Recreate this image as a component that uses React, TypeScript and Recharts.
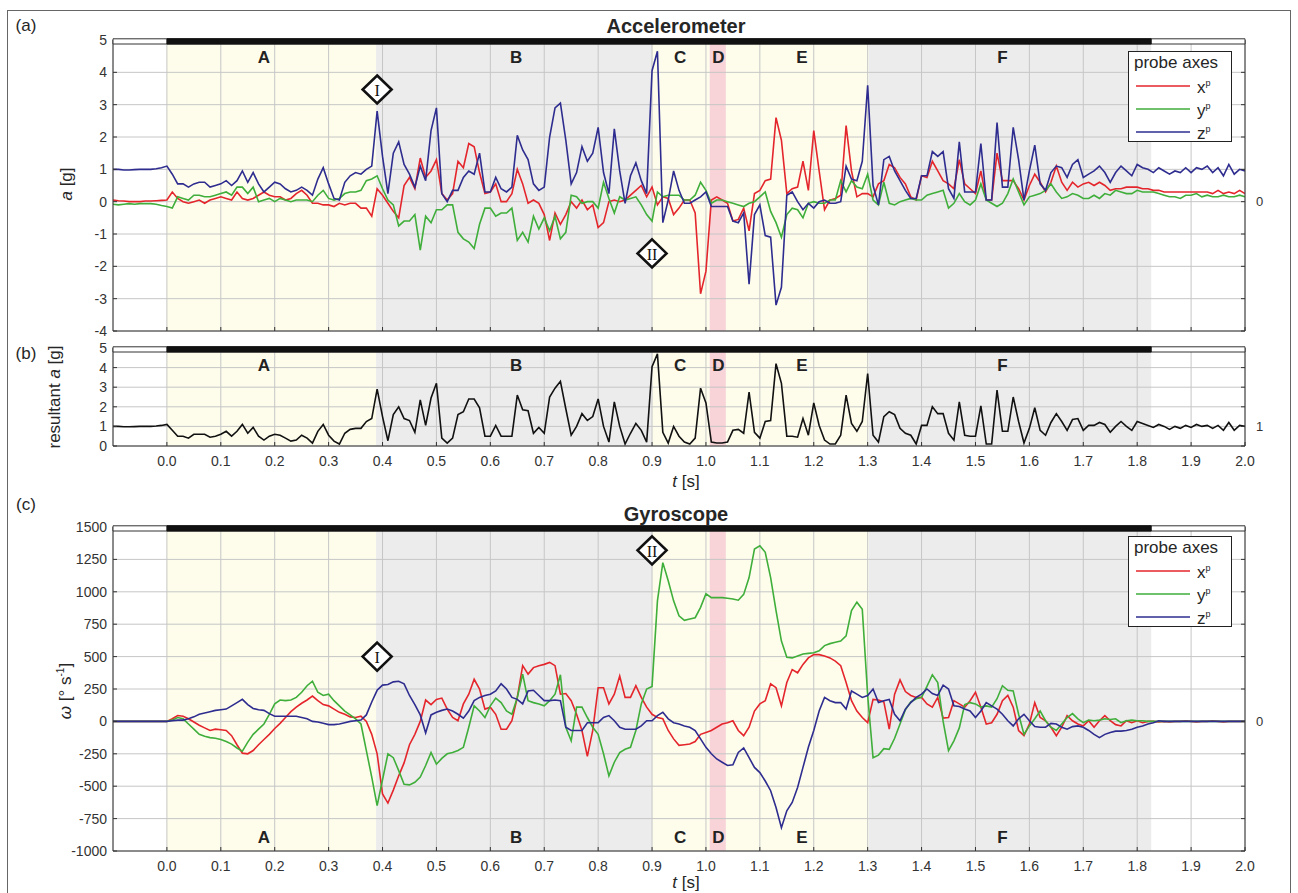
import React from "react"
import { LineChart, Line, XAxis, YAxis, CartesianGrid, ReferenceArea, ReferenceDot, Legend } from "recharts"

const FONT = '"Liberation Sans", Arial, Helvetica, sans-serif'
const SERIF = '"Liberation Serif", "DejaVu Serif", serif'
const INK = "#262626"

const RED = "#e4262c"
const GREEN = "#3fae3a"
const BLUE = "#2e2d8f"
const YELLOW = "#fefdec"
const GREY = "#ececec"
const PINK = "#f8d3d7"

// sampling: t = -0.10 ... 2.00 s, every 0.01 s
const T_START = -0.1
const T_STEP = 0.01
const T_MIN = -0.1
const T_MAX = 2.0

const TIME_TICKS = [0.0, 0.1, 0.2, 0.3, 0.4, 0.5, 0.6, 0.7, 0.8, 0.9, 1.0, 1.1, 1.2, 1.3, 1.4, 1.5, 1.6, 1.7, 1.8, 1.9, 2.0]
const ACC_TICKS = [-4, -3, -2, -1, 0, 1, 2, 3, 4, 5]
const RES_TICKS = [0, 1, 2, 3, 4, 5]
const GYRO_TICKS = [-1000, -750, -500, -250, 0, 250, 500, 750, 1000, 1250, 1500]

// phases of the movement
const PHASES = [
  { id: "A", from: 0.0, to: 0.388, fill: YELLOW, labelAt: 0.18 },
  { id: "B", from: 0.388, to: 0.9, fill: GREY, labelAt: 0.648 },
  { id: "C", from: 0.9, to: 1.007, fill: YELLOW, labelAt: 0.952 },
  { id: "D", from: 1.007, to: 1.037, fill: PINK, labelAt: 1.023 },
  { id: "E", from: 1.037, to: 1.302, fill: YELLOW, labelAt: 1.178 },
  { id: "F", from: 1.302, to: 1.826, fill: GREY, labelAt: 1.55 },
]
const RECORDING = [0.0, 1.826]

const ACC_EVENTS = [
  { label: "I", t: 0.39, v: 3.47 },
  { label: "II", t: 0.9, v: -1.6 },
]
const GYRO_EVENTS = [
  { label: "I", t: 0.39, v: 500 },
  { label: "II", t: 0.9, v: 1320 },
]

// accelerometer [g]
const ACC_X = [
  0.05, 0.03, 0.02, 0.0, 0.0, 0.0, 0.02, 0.02, 0.03, 0.04,
  0.05, 0.3, 0.1, 0.0, -0.05, 0.0, 0.05, -0.05, 0.05, 0.1,
  0.15, 0.1, 0.05, 0.3, 0.1, 0.05, 0.1, 0.2, 0.3, 0.2,
  0.15, 0.15, 0.05, 0.1, 0.25, 0.35, 0.2, -0.05, -0.05, -0.1,
  -0.1, -0.15, -0.05, -0.1, -0.05, -0.05, -0.2, -0.2, -0.45, 0.4,
  0.2, -0.05, -0.3, -0.5, 0.5, 0.75, 0.4, 1.35, 0.75, 0.95,
  1.3, 0.25, 0.05, 0.25, 1.25, 1.05, 1.8, 1.7, 0.9, 0.25,
  0.3, 0.55, 0.0, 0.0, 0.25, 1.0, 0.55, -0.05, 0.05, -0.05,
  -0.4, -1.2, -0.35, -0.7, -0.4, 0.0, -0.2, 0.05, -0.25, -0.1,
  -0.8, -0.65, 0.0, 0.05, 0.0, 0.05, 0.2, 0.35, 0.5, 0.15,
  0.45, -0.1, 0.15, 0.1, -0.4, -0.2, 0.05, 0.05, -0.35, -2.85,
  -2.15, 0.05, 0.15, 0.05, -0.05, -0.6, -0.55, -0.2, -0.9, 0.25,
  0.35, 0.65, 0.7, 2.6, 1.9, 0.25, 0.4, 0.45, 1.25, 0.35,
  2.2, 0.95, -0.25, 0.05, 0.1, 0.2, 2.35, 0.95, 0.15, 0.25,
  0.25, 0.15, 0.55, 0.65, 1.15, 1.05, 0.75, 0.55, 0.15, 0.05,
  0.8, 0.75, 1.25, 0.95, 0.65, 0.55, 0.4, 1.3, 0.55, 0.4,
  0.25, 0.95, 0.05, 0.05, 1.5, 0.65, 0.65, 0.65, 0.4, 0.05,
  0.5, 0.85, 0.6, 0.3, 0.6, 1.1, 0.6, 0.35, 0.6, 0.45,
  0.55, 0.6, 0.5, 0.6, 0.5, 0.35, 0.4, 0.4, 0.45, 0.45,
  0.45, 0.4, 0.4, 0.35, 0.35, 0.3, 0.3, 0.3, 0.3, 0.3,
  0.3, 0.3, 0.3, 0.3, 0.25, 0.35, 0.25, 0.3, 0.25, 0.35,
  0.25,
]
const ACC_Y = [
  -0.08, -0.1, -0.08, -0.06, -0.08, -0.06, -0.06, -0.06, -0.08, -0.12,
  -0.15, -0.2, 0.15, 0.1, 0.05, 0.2, 0.2, 0.15, 0.15, 0.2,
  0.25, 0.3, 0.2, 0.45, 0.45, 0.25, 0.45, 0.0, 0.05, 0.1,
  0.0, 0.1, 0.05, 0.0, 0.05, 0.05, 0.05, 0.0, 0.2, 0.35,
  0.1, 0.05, 0.1, 0.25, 0.3, 0.3, 0.35, 0.65, 0.7, 0.8,
  0.4, 0.05, -0.1, -0.75, -0.6, -0.6, -0.4, -1.5, -0.45, -0.65,
  -0.25, -0.25, -0.1, -0.1, -0.95, -1.15, -1.25, -1.45, -0.7, -0.2,
  -0.2, -0.45, -0.35, -0.35, -0.2, -1.2, -0.95, -1.25, -0.45, -0.85,
  -0.5, -0.9, -0.45, -1.15, -0.95, 0.2, 0.15, -0.05, 0.0, 0.0,
  -0.2, 0.6, 0.1, -0.35, 0.15, 0.05, 0.1, 0.15, -0.1, -0.4,
  -0.6, 0.3, 0.15, 0.2, 0.2, 0.2, 0.05, 0.05, 0.2, 0.6,
  0.35, -0.05, 0.05, 0.05, 0.0, -0.05, -0.1, -0.15, -0.05, 0.0,
  0.15, 0.3, -0.3, -0.65, -1.1, -0.4, -0.2, -0.25, -0.5, -0.05,
  0.0, -0.05, -0.05, 0.05, 0.05, 0.65, 0.3, 0.65, 0.45, 0.4,
  0.85, 0.05, -0.1, 0.6, -0.05, -0.1, 0.0, 0.05, 0.1, 0.05,
  0.05, 0.2, 0.25, 0.3, 0.35, -0.2, -0.05, 0.25, 0.0, -0.1,
  0.05, 0.55, 0.05, -0.05, -0.15, -0.05, 0.25, 0.7, 0.3, -0.1,
  0.15, 0.2, 0.25, 0.35, 0.55, 0.3, 0.1, 0.15, 0.25, 0.2,
  0.1, 0.1, 0.2, 0.1, 0.25, 0.2, 0.35, 0.3, 0.25, 0.25,
  0.35, 0.3, 0.3, 0.3, 0.25, 0.2, 0.15, 0.15, 0.1, 0.2,
  0.2, 0.25, 0.15, 0.2, 0.15, 0.15, 0.2, 0.15, 0.15, 0.2,
  0.15,
]
const ACC_Z = [
  1.0, 1.0, 0.98, 0.98, 0.99, 1.0, 1.0, 1.0, 1.02, 1.05,
  1.1, 0.85, 0.55, 0.55, 0.45, 0.55, 0.6, 0.6, 0.45, 0.5,
  0.55, 0.65, 0.5, 0.65, 0.95, 0.6, 0.9, 0.55, 0.3, 0.45,
  0.6, 0.55, 0.4, 0.3, 0.35, 0.45, 0.35, 0.2, 0.7, 1.05,
  0.55, 0.1, 0.05, 0.6, 0.8, 0.9, 0.85, 1.0, 1.1, 2.8,
  1.4, 0.25, 1.5, 1.85, 1.15, 0.85, 0.45, 1.1, 0.65, 2.2,
  2.9, 0.25, 0.0, 0.35, 0.35, 0.75, 0.95, 0.85, 1.5, 0.3,
  0.3, 0.75, 0.4, 0.3, 0.45, 2.05, 1.6, 1.3, 0.55, 0.35,
  0.45, 2.0, 2.9, 3.05, 1.9, 0.55, 0.9, 1.7, 1.25, 1.5,
  2.3, 0.9, 0.25, 2.25, 0.95, -0.05, 0.8, 1.2, 0.65, 0.25,
  4.05, 4.65, -0.65, 0.05, 0.95, 0.35, -0.05, -0.05, 0.05, 0.15,
  0.3, -0.15, -0.15, -0.15, -0.15, -0.6, -0.65, -0.35, -2.55, -0.4,
  -0.1, -1.05, -1.1, -3.2, -2.65, 0.2, 0.3, 0.0, -0.25, -0.05,
  -0.2, 0.0, 0.05, -0.05, -0.05, 0.0, 1.1, 0.7, 0.65, 1.25,
  3.6, 0.5, -0.1, 1.3, 1.4, 0.95, 0.65, 0.35, 0.1, 0.1,
  0.8, 0.8, 1.55, 1.4, 1.55, 0.4, 0.1, 1.85, 0.3, 0.3,
  0.3, 1.8, 0.05, 0.05, 2.45, 0.45, 0.45, 2.3, 1.3, 0.05,
  0.95, 1.75, 0.55, 0.35, 0.9, 1.1, 1.05, 0.75, 1.15, 1.3,
  0.75, 0.85, 0.95, 1.1, 0.9, 0.6, 0.9, 1.1, 0.95, 0.8,
  1.15, 1.05, 1.0, 0.9, 1.05, 0.95, 0.85, 0.95, 0.9, 1.05,
  0.9, 1.05, 1.0, 1.1, 0.9, 1.05, 0.8, 1.15, 0.85, 1.0,
  0.95,
]
const ACC_RES = [
  1.0, 1.0, 0.98, 0.98, 0.99, 1.0, 1.0, 1.0, 1.02, 1.05,
  1.1, 0.8, 0.5, 0.5, 0.4, 0.6, 0.6, 0.6, 0.45, 0.5,
  0.6, 0.75, 0.5, 0.75, 1.1, 0.65, 0.95, 0.5, 0.3, 0.5,
  0.6, 0.55, 0.4, 0.25, 0.3, 0.55, 0.4, 0.15, 0.75, 1.1,
  0.55, 0.25, 0.1, 0.65, 0.85, 0.9, 0.9, 1.25, 1.4, 2.9,
  1.5, 0.27, 1.6, 2.0, 1.4, 1.3, 0.7, 2.35, 1.05, 2.45,
  3.2, 0.4, 0.15, 0.4, 1.6, 1.75, 2.4, 2.4, 1.95, 0.5,
  0.5, 1.05, 0.5, 0.5, 0.5, 2.6, 1.85, 1.8, 0.65, 0.95,
  0.65, 2.5, 2.95, 3.3, 1.9, 0.55, 1.0, 1.65, 1.3, 1.5,
  2.4, 1.0, 0.2, 2.25, 1.0, 0.1, 0.65, 1.15, 0.8, 0.2,
  4.05, 4.7, 0.7, 0.15, 1.0, 0.5, 0.2, 0.1, 0.4, 2.95,
  2.2, 0.2, 0.15, 0.15, 0.2, 0.8, 0.85, 0.65, 2.75, 0.7,
  0.4, 1.25, 1.3, 4.2, 3.2, 0.5, 0.5, 0.45, 1.4, 0.55,
  2.2, 1.05, 0.3, 0.1, 0.1, 0.55, 2.6, 1.15, 0.75, 1.25,
  3.7, 0.55, 0.2, 1.5, 1.75, 1.6, 0.9, 0.65, 0.55, 0.1,
  1.05, 1.05, 2.0, 1.65, 1.65, 0.65, 0.3, 2.25, 0.55, 0.5,
  0.5, 2.05, 0.1, 0.1, 2.85, 0.75, 0.75, 2.5, 1.25, 0.15,
  0.9, 1.95, 0.8, 0.55, 1.2, 1.65, 1.25, 0.8, 1.35, 1.4,
  0.8, 1.05, 1.05, 1.2, 1.1, 0.7, 1.0, 1.25, 1.0, 0.8,
  1.25, 1.15, 1.05, 0.95, 1.1, 1.0, 0.85, 1.0, 0.9, 1.05,
  0.95, 1.1, 1.0, 1.05, 0.9, 1.05, 0.8, 1.2, 0.8, 1.05,
  1.0,
]

// gyroscope [deg/s]
const GYRO_X = [
  0, 0, 0, 0, 0, 0, 0, 0, 0, 0,
  0, 20, 45, 40, 20, -5, -30, -50, -70, -60,
  -65, -70, -110, -180, -245, -250, -225, -180, -140, -100,
  -55, -15, 30, 75, 110, 140, 165, 195, 160, 130,
  120, 95, 70, 55, 35, 30, 40, 0, -100, -250,
  -560, -630, -530, -420, -320, -180, -100, 0, 165, 130,
  170, 180, 95, 30, 5, 135, 210, 325, 250, 95,
  110, 55, -60, -60, 5, 185, 430, 365, 415, 430,
  440, 455, 430, 210, 215, 160, 55, -70, -270, -70,
  260, 260, 135, 210, 350, 185, 185, 275, 185, 110,
  55, 30, 20, -70, -135, -185, -180, -175, -155, -100,
  -85, -70, -45, -20, -10, 5, -70, -110, -45, 80,
  135, 160, 290, 260, 120, 300, 400, 375, 440, 490,
  515, 515, 505, 490, 465, 430, 300, 160, 80, 30,
  -10, 170, 165, 150, -60, 210, 320, 230, 200, 185,
  185, 135, 110, 185, 25, 30, 160, 135, 110, 160,
  225, 110, -20, -10, 55, 160, 200, 110, -70, -110,
  -20, 145, 30, 5, -45, -110, -45, 45, 5, -20,
  -35, 5, -45, 5, 45, 5, -25, -35, 5, -10,
  5, -10, 0, 0, -5, 0, -5, 0, 0, 5,
  0, -5, 0, 0, 5, 0, -5, 0, 0, 0,
  0,
]
const GYRO_Y = [
  0, 0, 0, 0, 0, 0, 0, 0, 0, 0,
  0, 10, 30, 20, -20, -60, -100, -115, -125, -130,
  -140, -155, -175, -205, -230, -160, -100, -60, -20, 55,
  135, 165, 160, 165, 185, 225, 275, 310, 225, 200,
  210, 160, 120, 80, 50, 20, -20, -225, -430, -650,
  -450, -250, -280, -380, -485, -490, -470, -430, -340, -240,
  -330, -285, -250, -240, -225, -200, -45, 120, 80, 30,
  120, 180, 145, 80, 55, 185, 365, 160, 145, 135,
  120, 160, 210, 360, -45, -150, 110, 110, 30, -45,
  -100, -250, -420, -315, -240, -215, -200, -70, 135, 250,
  270, 930, 1225, 1085, 930, 815, 780, 790, 800, 880,
  985, 955, 955, 955, 950, 945, 935, 980, 1110, 1330,
  1355, 1305, 1110, 855, 620, 495, 490, 505, 520, 525,
  530, 545, 585, 600, 610, 620, 660, 855, 920, 865,
  200, -280, -260, -210, -215, -130, -20, 90, 150, 175,
  185, 270, 360, 300, 0, -225, -150, -50, 130, 145,
  135, 110, 120, 110, 175, 275, 240, 235, 55, -100,
  -35, 20, 80, 5, -45, -70, -20, 30, 60, 20,
  -10, 10, 5, 10, 20, 15, 20, -10, 5, 10,
  5, 5, 0, 0, 0, 0, 0, 0, 0, 0,
  0, 0, 0, 0, 0, 0, 0, 0, 0, 0,
  0,
]
const GYRO_Z = [
  0, 0, 0, 0, 0, 0, 0, 0, 0, 0,
  0, 5, 10, 10, 20, 35, 55, 65, 75, 85,
  90, 95, 120, 145, 170, 130, 100, 90, 85, 60,
  40, 40, 40, 40, 40, 30, 20, 0, -5, -15,
  -25, -25, -20, -10, 0, 5, 10, 50, 150, 240,
  280, 285, 305, 310, 290, 200, 130, 50, -90, 50,
  70, 85, 95, 80, 55, 25, 80, 160, 185, 200,
  210, 235, 290, 250, 185, 170, 135, 235, 240, 200,
  160, 160, 165, 160, -45, -70, -70, -70, -10, -10,
  -10, 30, 45, 5, -45, -60, -60, -60, -35, 5,
  5, 45, 70, 20, -10, -20, -35, -45, -70, -135,
  -200, -250, -290, -315, -340, -335, -240, -205, -280, -355,
  -395, -460, -535, -665, -820, -690, -625, -510, -355, -200,
  -70, 80, 185, 160, 145, 145, 95, 235, 210, 185,
  200, 250, 145, 160, 170, 55, 5, 95, 145, 185,
  210, 250, 215, 200, 280, 250, 120, 115, 95, 80,
  30, 80, 145, 120, 95, 55, 5, -35, 20, 55,
  5, -40, -45, -45, -15, -20, -45, -60, -40, -35,
  -45, -70, -100, -125, -100, -85, -75, -75, -70, -60,
  -45, -35, -20, -10, 5, 0, 0, 0, 0, 0,
  0, 0, 0, 0, 0, 0, 0, 0, 0, 0,
  0,
]

const SERIES = [
  { key: "x", name: "x", color: RED },
  { key: "y", name: "y", color: GREEN },
  { key: "z", name: "z", color: BLUE },
]

const tAt = (i: number) => Math.round((T_START + i * T_STEP) * 100) / 100
const accRows = ACC_X.map((x, i) => ({ t: tAt(i), x, y: ACC_Y[i], z: ACC_Z[i] }))
const resRows = ACC_RES.map((r, i) => ({ t: tAt(i), r }))
const gyroRows = GYRO_X.map((x, i) => ({ t: tAt(i), x, y: GYRO_Y[i], z: GYRO_Z[i] }))

// geometry
const W = 1298
const PLOT_L = 113
const PLOT_R = 1245
const L_W = 56
const R_W = 30

function Diamond({ cx, cy, label }: { cx: number; cy: number; label: string }) {
  return (
    <g>
      <polygon
        points={`${cx},${cy - 14} ${cx + 14.5},${cy} ${cx},${cy + 14} ${cx - 14.5},${cy}`}
        fill="#fff"
        stroke="#111"
        strokeWidth={2.6}
      />
      <text x={cx} y={cy + 1} textAnchor="middle" dominantBaseline="central" fontFamily={SERIF} fontSize={16} fill="#111">
        {label}
      </text>
    </g>
  )
}

function ProbeLegend() {
  return (
    <div
      style={{
        width: 104,
        height: 91,
        boxSizing: "border-box",
        border: "1.5px solid #222",
        background: "#fff",
        fontFamily: FONT,
        color: INK,
      }}
    >
      <div style={{ fontSize: 17, lineHeight: "20px", paddingLeft: 5, paddingTop: 1, height: 21 }}>probe axes</div>
      {SERIES.map((s) => (
        <div key={s.key} style={{ display: "flex", alignItems: "center", height: 23 }}>
          <svg width={64} height={10} style={{ display: "block" }}>
            <line x1={7} y1={5} x2={61} y2={5} stroke={s.color} strokeWidth={1.6} />
          </svg>
          <span style={{ fontSize: 17, marginLeft: 4, lineHeight: "20px" }}>
            {s.name}
            <span style={{ fontSize: 9, verticalAlign: "7px" }}>p</span>
          </span>
        </div>
      ))}
    </div>
  )
}

type PanelProps = {
  top: number
  plotH: number
  rows: any[]
  domain: [number, number]
  ticks: number[]
  rightLabel: number
  keys: { key: string; color: string }[]
  xLabels: boolean
  letterY: number
  events?: { label: string; t: number; v: number }[]
  legendTop?: number
}

function Panel({ top, plotH, rows, domain, ticks, rightLabel, keys, xLabels, letterY, events, legendTop }: PanelProps) {
  const mTop = 12
  const xH = xLabels ? 34 : 8
  const h = mTop + plotH + xH
  const u = (domain[1] - domain[0]) / plotH
  const tickStyle = { fontSize: 14, fill: "#333", fontFamily: FONT }
  return (
    <div style={{ position: "absolute", left: 0, top: top - mTop }}>
      <LineChart
        width={W}
        height={h}
        data={rows}
        margin={{ top: mTop, right: W - PLOT_R - R_W, bottom: 0, left: PLOT_L - L_W }}
      >
        {PHASES.map((p) => (
          <ReferenceArea
            key={p.id}
            x1={p.from}
            x2={p.to}
            y1={domain[0]}
            y2={domain[1]}
            fill={p.fill}
            fillOpacity={1}
            strokeWidth={0}
            zIndex={-200}
          />
        ))}
        <CartesianGrid stroke="#c6c6c6" strokeWidth={1} />
        <XAxis
          type="number"
          dataKey="t"
          domain={[T_MIN, T_MAX]}
          ticks={TIME_TICKS}
          interval={0}
          allowDataOverflow
          height={xH}
          axisLine={{ stroke: "#333" }}
          tickLine={{ stroke: "#333" }}
          tickSize={-4}
          tickMargin={14}
          tick={tickStyle}
          tickFormatter={(v: number) => (xLabels ? v.toFixed(1) : "")}
        />
        <YAxis
          domain={domain}
          ticks={ticks}
          interval={0}
          allowDataOverflow
          width={L_W}
          axisLine={{ stroke: "#333" }}
          tickLine={{ stroke: "#333" }}
          tickSize={-4}
          tickMargin={10}
          tick={tickStyle}
        />
        <YAxis
          yAxisId="r"
          orientation="right"
          domain={domain}
          ticks={ticks}
          interval={0}
          allowDataOverflow
          width={R_W}
          axisLine={{ stroke: "#333" }}
          tickLine={{ stroke: "#333" }}
          tickSize={-4}
          tickMargin={15}
          tick={{ ...tickStyle, fontSize: 13 }}
          tickFormatter={(v: number) => (v === rightLabel ? String(v) : "")}
        />
        {keys.map((s) => (
          <Line
            key={s.key}
            dataKey={s.key}
            type="linear"
            stroke={s.color}
            strokeWidth={1.6}
            dot={false}
            activeDot={false}
            isAnimationActive={false}
          />
        ))}
        {PHASES.map((p) => (
          <ReferenceDot
            key={"lbl" + p.id}
            x={p.labelAt}
            y={letterY}
            r={0}
            zIndex={650}
            shape={(pr: any) => (
              <text
                x={pr.cx}
                y={pr.cy}
                textAnchor="middle"
                dominantBaseline="central"
                fontFamily={FONT}
                fontWeight="bold"
                fontSize={17}
                fill="#222"
              >
                {p.id}
              </text>
            )}
          />
        ))}
        <ReferenceArea
          x1={T_MIN}
          x2={T_MAX}
          y1={domain[1] - 4 * u}
          y2={domain[1] + 1.2 * u}
          fill="#fff"
          fillOpacity={1}
          stroke="#333"
          strokeWidth={1}
          ifOverflow="visible"
          zIndex={700}
        />
        <ReferenceArea
          x1={RECORDING[0]}
          x2={RECORDING[1]}
          y1={domain[1] - 4 * u}
          y2={domain[1] + 1.2 * u}
          fill="#111"
          fillOpacity={1}
          stroke="#111"
          strokeWidth={1}
          ifOverflow="visible"
          zIndex={701}
        />
        {(events || []).map((e) => (
          <ReferenceDot
            key={"ev" + e.label}
            x={e.t}
            y={e.v}
            r={0}
            zIndex={800}
            shape={(pr: any) => <Diamond cx={pr.cx} cy={pr.cy} label={e.label} />}
          />
        ))}
        {legendTop !== undefined && (
          <Legend
            layout="vertical"
            verticalAlign="middle"
            align="center"
            wrapperStyle={{ left: 1128, top: legendTop, width: 104, height: 91 }}
            content={() => <ProbeLegend />}
          />
        )}
      </LineChart>
    </div>
  )
}

function Txt({ x, y, size = 17, bold = false, rotate = false, children }: any) {
  return (
    <div
      style={{
        position: "absolute",
        left: x,
        top: y,
        transform: `translate(-50%, -50%)${rotate ? " rotate(-90deg)" : ""}`,
        whiteSpace: "nowrap",
        fontFamily: FONT,
        fontSize: size,
        fontWeight: bold ? "bold" : "normal",
        color: INK,
        lineHeight: 1,
      }}
    >
      {children}
    </div>
  )
}

export default function App() {
  return (
    <div
      style={{
        position: "absolute",
        left: 0,
        top: 0,
        width: W,
        height: 893,
        background: "#fff",
        overflow: "hidden",
        fontFamily: FONT,
      }}
    >
      <div
        style={{
          position: "absolute",
          left: 7,
          top: 10,
          width: 1284,
          height: 900,
          border: "1.5px solid #666",
          boxSizing: "border-box",
        }}
      />

      <Panel
        top={40}
        plotH={291}
        rows={accRows}
        domain={[-4, 5]}
        ticks={ACC_TICKS}
        rightLabel={0}
        keys={SERIES}
        xLabels={false}
        letterY={4.45}
        events={ACC_EVENTS}
        legendTop={23}
      />
      <Panel
        top={348}
        plotH={98}
        rows={resRows}
        domain={[0, 5]}
        ticks={RES_TICKS}
        rightLabel={1}
        keys={[{ key: "r", color: "#111" }]}
        xLabels={true}
        letterY={4.1}
      />
      <Panel
        top={527}
        plotH={324}
        rows={gyroRows}
        domain={[-1000, 1500]}
        ticks={GYRO_TICKS}
        rightLabel={0}
        keys={SERIES}
        xLabels={true}
        letterY={-892}
        events={GYRO_EVENTS}
        legendTop={21}
      />

      <Txt x={26} y={25}>(a)</Txt>
      <Txt x={676} y={26} size={20} bold>Accelerometer</Txt>
      <Txt x={66} y={184} rotate>
        <i>a</i> [g]
      </Txt>

      <Txt x={26} y={353}>(b)</Txt>
      <Txt x={54} y={397} rotate>
        resultant <i>a</i> [g]
      </Txt>
      <Txt x={686} y={481}>
        <i>t</i> [s]
      </Txt>

      <Txt x={26} y={504}>(c)</Txt>
      <Txt x={676} y={514} size={20} bold>Gyroscope</Txt>
      <Txt x={65} y={691} rotate>
        <i>ω</i> [° s<span style={{ fontSize: 10, verticalAlign: "7px" }}>-1</span>]
      </Txt>
      <Txt x={686} y={882}>
        <i>t</i> [s]
      </Txt>
    </div>
  )
}
